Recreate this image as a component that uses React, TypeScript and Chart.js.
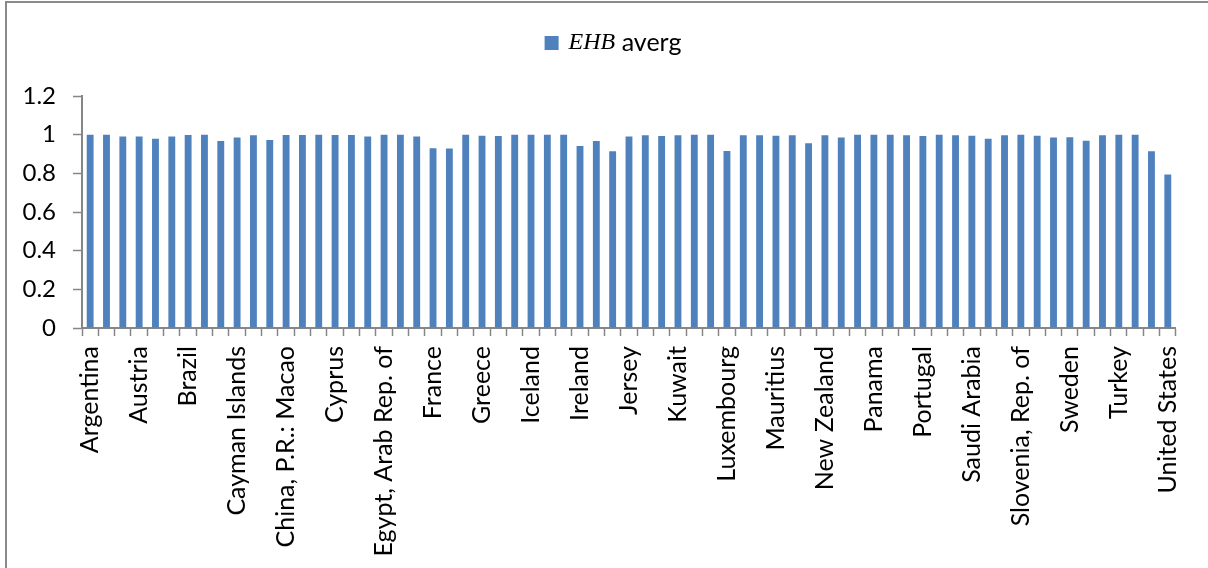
import { useEffect, useRef } from "react";
import { Chart, registerables } from "chart.js";

Chart.register(...registerables);

// Countries in alphabetical order; every third one carries a visible axis label.
const countries = [
  "Argentina", "Aruba", "Australia", "Austria", "Bahrain", "Belgium",
  "Brazil", "Bulgaria", "Canada", "Cayman Islands", "Chile", "China, P.R.: Hong Kong",
  "China, P.R.: Macao", "Colombia", "Croatia", "Cyprus", "Czech Republic", "Denmark",
  "Egypt, Arab Rep. of", "Estonia", "Finland", "France", "Germany", "Gibraltar",
  "Greece", "Guernsey", "Hungary", "Iceland", "India", "Indonesia",
  "Ireland", "Israel", "Italy", "Jersey", "Jordan", "Korea, Rep. of",
  "Kuwait", "Latvia", "Lithuania", "Luxembourg", "Malaysia", "Malta",
  "Mauritius", "Mexico", "Netherlands", "New Zealand", "Norway", "Oman",
  "Panama", "Peru", "Poland", "Portugal", "Qatar", "Russian Federation",
  "Saudi Arabia", "Singapore", "Slovak Republic", "Slovenia, Rep. of", "South Africa", "Spain",
  "Sweden", "Switzerland", "Thailand", "Turkey", "United Arab Emirates", "United Kingdom",
  "United States",
];

// Average EHB per country.
const ehbAverage = [
  1.0, 1.0, 0.99, 0.99, 0.979, 0.99,
  0.998, 1.0, 0.967, 0.985, 0.997, 0.973,
  0.998, 0.998, 1.0, 0.998, 0.998, 0.99,
  1.0, 1.0, 0.99, 0.93, 0.928, 1.0,
  0.995, 0.993, 1.0, 1.0, 1.0, 1.0,
  0.942, 0.967, 0.914, 0.991, 0.997, 0.993,
  0.997, 1.0, 1.0, 0.916, 0.997, 0.997,
  0.995, 0.997, 0.955, 0.997, 0.985, 1.0,
  1.0, 1.0, 0.997, 0.993, 1.0, 0.997,
  0.995, 0.979, 0.997, 1.0, 0.995, 0.985,
  0.986, 0.969, 0.997, 1.0, 1.0, 0.914,
  0.794,
];

const legendSymbol = "EHB";
const legendWord = " averg";
const labelEvery = 3;
const yMin = 0;
const yMax = 1.2;
const yStep = 0.2;

const barColor = "#4F81BD";
const axisColor = "#868686";
const textFont = "Lato, 'Liberation Sans', sans-serif";

// Legend with a mixed-style label: italic math symbol followed by plain text.
const mixedLegend = {
  id: "mixedLegend",
  afterDraw(chart: Chart) {
    const ctx = chart.ctx;
    const box = 14;
    const gap = 10;
    const symFont = "italic 24px 'Liberation Serif', 'DejaVu Serif', serif";
    const wordFont = `25px ${textFont}`;
    ctx.save();
    ctx.font = symFont;
    const symW = ctx.measureText(legendSymbol).width;
    ctx.font = wordFont;
    const wordW = ctx.measureText(legendWord).width;
    const total = box + gap + symW + wordW;
    const cx = chart.width / 2 + 9;
    const cy = 43;
    let x = cx - total / 2;
    ctx.fillStyle = barColor;
    ctx.fillRect(x, cy - box / 2, box, box);
    x += box + gap;
    ctx.fillStyle = "#000";
    ctx.textBaseline = "middle";
    ctx.textAlign = "left";
    ctx.font = symFont;
    ctx.fillText(legendSymbol, x, cy);
    x += symW;
    ctx.font = wordFont;
    ctx.fillText(legendWord, x, cy);
    ctx.restore();
  },
};

export default function App() {
  const canvasRef = useRef<HTMLCanvasElement | null>(null);

  useEffect(() => {
    const canvas = canvasRef.current;
    if (!canvas) return;
    const chart = new Chart(canvas, {
      type: "bar",
      data: {
        labels: countries,
        datasets: [
          {
            label: legendSymbol + legendWord,
            data: ehbAverage,
            backgroundColor: barColor,
            borderWidth: 0,
            categoryPercentage: 1,
            barPercentage: 0.42,
          },
        ],
      },
      options: {
        responsive: false,
        animation: false,
        layout: { padding: { top: 96, right: 27, bottom: 0, left: 0 } },
        plugins: {
          legend: { display: false },
          tooltip: { enabled: false },
        },
        scales: {
          x: {
            offset: true,
            border: { display: true, color: axisColor, width: 2 },
            grid: {
              offset: true,
              drawOnChartArea: false,
              drawTicks: true,
              tickLength: 8,
              tickColor: axisColor,
              tickWidth: 1.5,
            },
            ticks: {
              autoSkip: false,
              minRotation: 90,
              maxRotation: 90,
              padding: 10,
              color: "#000",
              font: { family: textFont, size: 25 },
              callback: (_v: any, i: number) => (i % labelEvery === 0 ? countries[i] : ""),
            },
            afterFit: (scale: any) => {
              scale.height = 240;
            },
          },
          y: {
            min: yMin,
            max: yMax,
            border: { display: true, color: axisColor, width: 2 },
            grid: {
              drawOnChartArea: false,
              drawTicks: true,
              tickLength: 9,
              tickColor: axisColor,
              tickWidth: 1.5,
            },
            ticks: {
              stepSize: yStep,
              padding: 17,
              color: "#000",
              font: { family: textFont, size: 24 },
              callback: (v: any) => String(Number(Number(v).toFixed(1))),
            },
            afterFit: (scale: any) => {
              scale.width = 82;
            },
          },
        },
      },
      plugins: [mixedLegend],
    });
    return () => chart.destroy();
  }, []);

  return (
    <div
      style={{
        position: "fixed",
        left: 0,
        top: 0,
        width: 1208,
        height: 568,
        overflow: "hidden",
        background: "#fff",
      }}
    >
      <div
        style={{
          position: "absolute",
          left: 5,
          top: 1,
          width: 1400,
          height: 800,
          borderLeft: "2px solid #8a8a8a",
          borderTop: "2px solid #8a8a8a",
        }}
      />
      <canvas
        ref={canvasRef}
        width={1208}
        height={568}
        style={{ position: "absolute", left: 0, top: 0 }}
      />
    </div>
  );
}
